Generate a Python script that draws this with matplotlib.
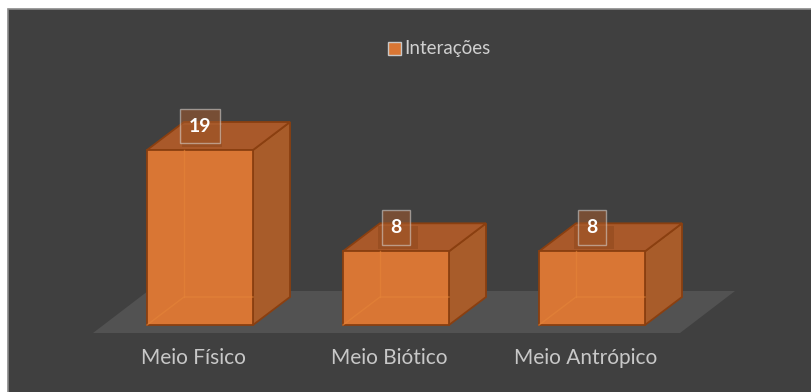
import matplotlib
matplotlib.use("Agg")
import matplotlib.pyplot as plt
from matplotlib.patches import Polygon, Rectangle
import numpy as np

categories = ["Meio Físico", "Meio Biótico", "Meio Antrópico"]
values = [19, 8, 8]
series_name = "Interações"

W, H, DPI = 811, 392, 100
fig = plt.figure(figsize=(W / DPI, H / DPI), dpi=DPI, facecolor="white")

ax = fig.add_axes([0, 0, 1, 1])
ax.set_facecolor("none")
ax.axis("off")

# chart area background with border
ax.add_patch(Rectangle((8 / W, -0.1), 1.1, (H - 9) / H + 0.1, transform=fig.transFigure,
                       facecolor="#404040", edgecolor="#8a8a8a", linewidth=1.2, zorder=0,
                       clip_on=False))

px_x = 196.0          # pixels per category step
px_y = 175.0 / 19.0   # pixels per value unit
x0_pix = 200.0
base_pix = H - 325.0
ax.set_xlim(-x0_pix / px_x, (W - x0_pix) / px_x)
ax.set_ylim(-base_pix / px_y, (H - base_pix) / px_y)

bw = 106 / px_x
ddx = 37 / px_x
ddy = 28 / px_y

# floor
f_front = -8 / px_y
f_back = 34 / px_y
fl, fr = (93 - x0_pix) / px_x, (680 - x0_pix) / px_x
fdx = 55 / px_x
ax.add_patch(Polygon([(fl, f_front), (fr, f_front), (fr + fdx, f_back), (fl + fdx, f_back)],
                     closed=True, facecolor="#525252", edgecolor="none", zorder=1))

front_c = "#D97634"
side_c = "#A85C2A"
top_c = "#A9592A"
edge_c = "#8A3F10"

xs = np.arange(len(categories))
ax.bar(xs, values, width=bw, color=front_c, edgecolor=edge_c, linewidth=1.3, zorder=5)

for x, v in zip(xs, values):
    l, r = x - bw / 2, x + bw / 2
    # side
    ax.add_patch(Polygon([(r, 0), (r + ddx, ddy), (r + ddx, v + ddy), (r, v)], closed=True,
                         facecolor=side_c, edgecolor=edge_c, linewidth=1.3, zorder=4))
    # top
    ax.add_patch(Polygon([(l, v), (r, v), (r + ddx, v + ddy), (l + ddx, v + ddy)], closed=True,
                         facecolor=top_c, edgecolor=edge_c, linewidth=1.3, zorder=4))
    # faint hidden edges (translucent look)
    ax.plot([l + ddx, l + ddx], [ddy, v], color="#E58539", lw=1.0, alpha=0.6, zorder=6)
    ax.plot([l, l + ddx, r], [0, ddy, ddy], color="#E58539", lw=1.0, alpha=0.6, zorder=6)
    # shadow of the label on the top face
    ax.add_patch(Polygon([(x - 0.09, v + ddy * 0.9), (x + 0.11, v + ddy * 0.9),
                          (x + 0.11, v + ddy * 0.1), (x - 0.09, v + ddy * 0.1)],
                         closed=True, facecolor="#7a3a12", alpha=0.3, edgecolor="none", zorder=6))
    # data label
    ly = v + 24 / px_y
    ax.text(x, ly, str(v), ha="center", va="center", fontsize=14, fontweight="bold",
            color="white", family="Lato", zorder=8,
            bbox=dict(boxstyle="square,pad=0.45", facecolor="#A65B2C", alpha=0.55,
                      edgecolor="#d8d8d8", linewidth=1.0))

for x, c in zip(xs, categories):
    ax.text(x - 0.035, -33 / px_y, c, ha="center", va="center", fontsize=15,
            color="#C8C8C8", family="Lato", zorder=8)

# legend
lx_pix, ly_pix = 388, H - 48
lx = (lx_pix - x0_pix) / px_x
lyv = (ly_pix - base_pix) / px_y
ax.add_patch(Rectangle((lx, lyv - 6.5 / px_y), 13 / px_x, 13 / px_y, facecolor=front_c,
                       edgecolor="#C8C8C8", linewidth=1.0, zorder=8))
ax.text(lx + 16 / px_x, lyv, series_name, ha="left", va="center", fontsize=13.5,
        color="#D0D0D0", family="Lato", zorder=8)

fig.savefig("out.png", dpi=DPI, facecolor=fig.get_facecolor())
